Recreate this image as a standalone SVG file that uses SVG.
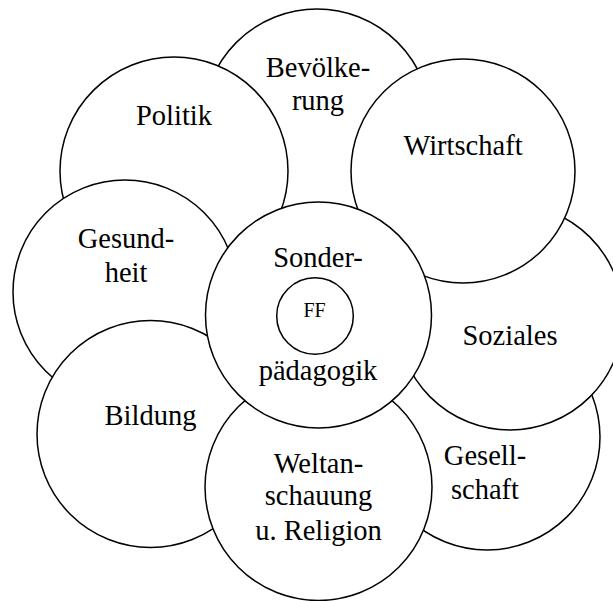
<svg xmlns="http://www.w3.org/2000/svg" width="613" height="601" viewBox="0 0 613 601">
<style>
.c{fill:#fff;stroke:#000;stroke-width:1.5}
.t{font-family:"Liberation Serif","Times New Roman",serif;font-size:28.5px;fill:#000;text-anchor:middle}
.s{font-family:"Liberation Serif","Times New Roman",serif;font-size:20px;fill:#000;text-anchor:middle}
</style>
<rect width="613" height="601" fill="#fff"/>
<g id="bevoelkerung"><circle class="c" cx="317" cy="123" r="114"/><text class="t" x="318" y="77">Bevölke-</text><text class="t" x="318" y="110">rung</text></g>
<g id="politik"><circle class="c" cx="174" cy="171" r="114"/><text class="t" x="174" y="125">Politik</text></g>
<g id="gesundheit"><circle class="c" cx="125" cy="292" r="112"/><text class="t" x="126" y="248">Gesund-</text><text class="t" x="126" y="282">heit</text></g>
<g id="bildung"><circle class="c" cx="150.5" cy="434" r="113.5"/><text class="t" x="150.5" y="425">Bildung</text></g>
<g id="gesellschaft"><circle class="c" cx="487" cy="437" r="113"/><text class="t" x="485" y="465">Gesell-</text><text class="t" x="485" y="499">schaft</text></g>
<g id="soziales"><circle class="c" cx="510" cy="317" r="113"/><text class="t" x="510" y="345">Soziales</text></g>
<g id="wirtschaft"><circle class="c" cx="463" cy="171" r="112"/><text class="t" x="463" y="155">Wirtschaft</text></g>
<g id="weltanschauung"><circle class="c" cx="318.5" cy="487" r="113.5"/><text class="t" x="318.5" y="473">Weltan-</text><text class="t" x="318.5" y="505">schauung</text><text class="t" x="318.5" y="540">u. Religion</text></g>
<g id="sonderpaedagogik"><circle class="c" cx="318.5" cy="315" r="113"/><text class="t" x="318" y="267">Sonder-</text><text class="t" x="318" y="380">pädagogik</text></g>
<g id="ff"><circle class="c" cx="315" cy="316" r="38.3"/><text class="s" x="314.5" y="317.3">FF</text></g>
<g id="connectors"/>
</svg>
